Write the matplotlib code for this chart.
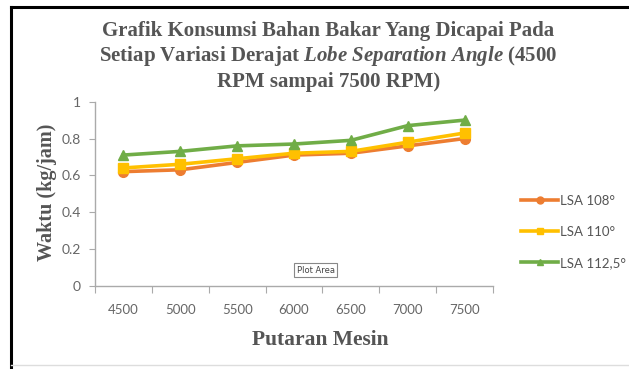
import matplotlib
matplotlib.use("Agg")
import matplotlib.pyplot as plt
from matplotlib.lines import Line2D

plt.rcParams["mathtext.fontset"] = "custom"
plt.rcParams["mathtext.it"] = "Liberation Serif:italic:bold"
plt.rcParams["mathtext.rm"] = "Liberation Serif:bold"
plt.rcParams["mathtext.bf"] = "Liberation Serif:bold"

categories = ["4500", "5000", "5500", "6000", "6500", "7000", "7500"]
lsa108 = [0.62, 0.63, 0.67, 0.71, 0.72, 0.76, 0.80]
lsa110 = [0.64, 0.66, 0.69, 0.72, 0.73, 0.78, 0.83]
lsa1125 = [0.71, 0.73, 0.76, 0.77, 0.79, 0.87, 0.90]
series_names = ["LSA 108°", "LSA 110°", "LSA 112,5°"]
yticks = [0, 0.2, 0.4, 0.6, 0.8, 1]
ytick_labels = ["0", "0.2", "0.4", "0.6", "0.8", "1"]

fig = plt.figure(figsize=(6.29, 3.69), dpi=100)
fig.patch.set_facecolor("white")
ax = fig.add_axes([0.151, 0.2257, 0.633, 0.4987])

x = list(range(len(categories)))
colors = ["#ED7D31", "#FFC000", "#70AD47"]
markers = ["o", "s", "^"]
for vals, name, c, m in zip([lsa108, lsa110, lsa1125], series_names, colors, markers):
    ax.plot(x, vals, color=c, lw=2.6, marker=m, markersize=7, label=name)

ax.set_xlim(-0.5, len(categories) - 0.5)
ax.set_ylim(0, 1)
ax.set_yticks(yticks)
ax.set_yticklabels(ytick_labels, fontsize=10, color="#666666", family="Lato")
ax.set_xticks([i - 0.5 for i in range(len(categories) + 1)])
ax.set_xticklabels([])
ax.set_xticks(x, minor=True)
ax.set_xticklabels(categories, minor=True, fontsize=9.5, color="#666666", family="Lato")
ax.tick_params(axis="x", which="major", length=5, color="#aaaaaa", direction="out")
ax.tick_params(axis="x", which="minor", length=0, pad=13)
ax.tick_params(axis="y", length=4, color="#aaaaaa", direction="out", pad=6)
for s in ["top", "right"]:
    ax.spines[s].set_visible(False)
for s in ["left", "bottom"]:
    ax.spines[s].set_color("#aaaaaa")
    ax.spines[s].set_linewidth(1.0)

tkw = dict(ha="center", va="center", fontsize=15, fontweight="bold", color="#555555",
           family="Liberation Serif")
fig.text(0.522, 0.915, "Grafik Konsumsi Bahan Bakar Yang Dicapai Pada", **tkw)
fig.text(0.522, 0.847, r"Setiap Variasi Derajat $\mathit{Lobe\ Separation\ Angle}$ (4500", **tkw)
fig.text(0.522, 0.778, "RPM sampai 7500 RPM)", **tkw)

fig.text(0.075, 0.48, "Waktu (kg/jam)", rotation=90, ha="center", va="center",
         fontsize=14.5, fontweight="bold", color="#555555", family="Liberation Serif")
fig.text(0.51, 0.078, "Putaran Mesin", ha="center", va="center",
         fontsize=15.5, fontweight="bold", color="#555555", family="Liberation Serif")

ax.text(0.555, 0.085, "Plot Area", transform=ax.transAxes, ha="center", va="center",
        fontsize=6, color="#444444",
        bbox=dict(boxstyle="square,pad=0.3", fc="white", ec="#888888", lw=0.8))

leg = fig.legend(loc="upper left", bbox_to_anchor=(0.81, 0.505), frameon=False,
                 handlelength=2.8, handletextpad=0.1, labelspacing=1.45,
                 prop={"family": "Lato", "size": 9.5})
for t in leg.get_texts():
    t.set_color("#555555")
for h in leg.legend_handles:
    h.set_markersize(5)

fig.add_artist(Line2D([0.017, 0.017], [0.0, 0.98], transform=fig.transFigure, color="black", lw=2.2))
fig.add_artist(Line2D([0.017, 1.0], [0.98, 0.98], transform=fig.transFigure, color="black", lw=2.2))
fig.add_artist(Line2D([0.017, 1.0], [0.01, 0.01], transform=fig.transFigure, color="#dddddd", lw=1))

fig.savefig("out.png", dpi=100)
